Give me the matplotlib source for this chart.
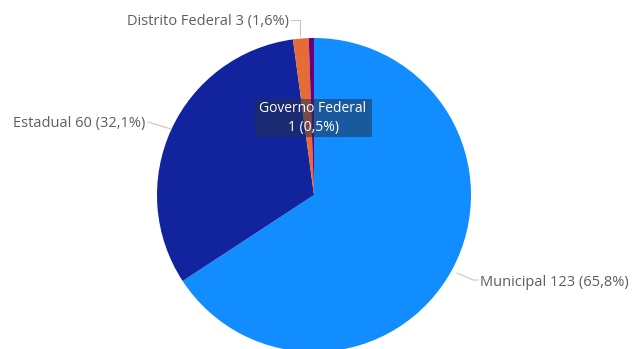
import matplotlib
matplotlib.use("Agg")
import matplotlib.pyplot as plt
from matplotlib.patches import Rectangle

categories = ["Municipal", "Estadual", "Distrito Federal", "Governo Federal"]
values = [123, 60, 3, 1]
percent_labels = ["65,8%", "32,1%", "1,6%", "0,5%"]
colors = ["#118DFF", "#12239E", "#E66C37", "#6B007B"]

plt.rcParams['font.family'] = ['Open Sans', 'DejaVu Sans']

fig = plt.figure(figsize=(6.32, 3.49), dpi=100)
ax = fig.add_axes([0, 0, 1, 1])

cx, cy, r = 314, -195, 157
ax.pie(values, colors=colors, startangle=90, counterclock=False,
       center=(cx, cy), radius=r, wedgeprops=dict(linewidth=0))
ax.set_xlim(0, 632)
ax.set_ylim(-349, 0)
ax.set_aspect('equal')
ax.axis('off')

txt_color = "#605E5C"
line_color = "#C8C6C4"
fs = 10.5

# Municipal
ax.plot([457, 473, 478], [-273, -280, -280], color=line_color, lw=0.8)
ax.text(480, -282, f"{categories[0]} {values[0]} ({percent_labels[0]})",
        color=txt_color, fontsize=fs, va='center', ha='left')
# Estadual
ax.plot([148, 171], [-122, -129], color=line_color, lw=0.8)
ax.text(145, -124, f"{categories[1]} {values[1]} ({percent_labels[1]})",
        color=txt_color, fontsize=fs, va='center', ha='right')
# Distrito Federal
ax.plot([291, 300, 300], [-20, -20, -36], color=line_color, lw=0.8)
ax.text(289, -21, f"{categories[2]} {values[2]} ({percent_labels[2]})",
        color=txt_color, fontsize=fs, va='center', ha='right')
# Governo Federal (inside label box)
ax.add_patch(Rectangle((255, -137), 117, 38, facecolor="#203050",
                       alpha=0.55, edgecolor='none', zorder=3))
ax.text(313, -109, categories[3], color='white', fontsize=10,
        va='center', ha='center', zorder=4)
ax.text(313, -128, f"{values[3]} ({percent_labels[3]})", color='white',
        fontsize=10, va='center', ha='center', zorder=4)

fig.savefig("out.png", dpi=100)
